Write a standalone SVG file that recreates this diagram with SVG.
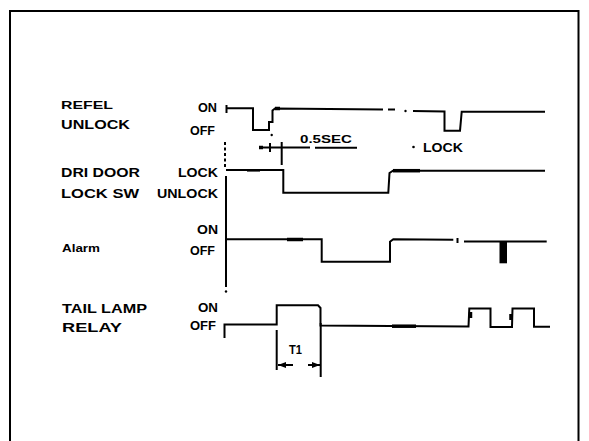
<svg xmlns="http://www.w3.org/2000/svg" width="589" height="441" viewBox="0 0 589 441">
<style>
.t{font-family:"Liberation Sans",Arial,sans-serif;font-weight:bold;font-size:12.5px;fill:#000}
.w{fill:none;stroke:#000;stroke-width:2;stroke-linejoin:miter}
.k{fill:none;stroke:#000;stroke-width:3.5}
.d{fill:none;stroke:#000;stroke-width:2;stroke-dasharray:3 2.5}
</style>
<defs>
<marker id="ah" viewBox="0 0 8 6" refX="8" refY="3" markerWidth="8" markerHeight="6" markerUnits="userSpaceOnUse" orient="auto">
<path d="M0,0 L8,3 L0,6 z" fill="#000"/>
</marker>
</defs>
<rect width="589" height="441" fill="#fff"/>
<path d="M10,441 V11 H578.5 V441" fill="none" stroke="#000" stroke-width="2"/>

<g id="labels">
<text class="t" x="61" y="109" textLength="52" lengthAdjust="spacingAndGlyphs" style="font-size:11px">REFEL</text>
<text class="t" x="61" y="128.5" textLength="69" lengthAdjust="spacingAndGlyphs">UNLOCK</text>
<text class="t" x="61" y="176.5" textLength="79" lengthAdjust="spacingAndGlyphs">DRI DOOR</text>
<text class="t" x="61" y="198" textLength="78" lengthAdjust="spacingAndGlyphs">LOCK SW</text>
<text class="t" x="62" y="251.5" textLength="38" lengthAdjust="spacingAndGlyphs" style="font-size:10.5px">Alarm</text>
<text class="t" x="62" y="313" textLength="85" lengthAdjust="spacingAndGlyphs">TAIL LAMP</text>
<text class="t" x="62" y="331.5" textLength="60" lengthAdjust="spacingAndGlyphs">RELAY</text>
</g>

<g id="levels">
<text class="t" x="198" y="112" textLength="19" lengthAdjust="spacingAndGlyphs">ON</text>
<text class="t" x="190" y="135" textLength="25" lengthAdjust="spacingAndGlyphs">OFF</text>
<text class="t" x="178" y="176.5" textLength="40" lengthAdjust="spacingAndGlyphs">LOCK</text>
<text class="t" x="157" y="198" textLength="61" lengthAdjust="spacingAndGlyphs">UNLOCK</text>
<text class="t" x="197" y="234" textLength="21" lengthAdjust="spacingAndGlyphs">ON</text>
<text class="t" x="190" y="255" textLength="25" lengthAdjust="spacingAndGlyphs">OFF</text>
<text class="t" x="198" y="311.5" textLength="20" lengthAdjust="spacingAndGlyphs">ON</text>
<text class="t" x="190" y="330" textLength="26" lengthAdjust="spacingAndGlyphs">OFF</text>
</g>

<g id="axis">
<line class="d" x1="225" y1="142" x2="225" y2="168"/>
<line class="w" x1="226" y1="176" x2="226" y2="287"/>
<circle cx="226" cy="291.5" r="1.2" fill="#000"/>
</g>

<g id="refel-unlock">
<line class="w" x1="226.5" y1="105" x2="226.5" y2="113"/>
<polyline class="w" points="226.5,108.3 253,108.3 253,130 269,130 269,122 272.5,122 272.5,110.5 275,108.5 383,109.5"/>
<line class="k" x1="275" y1="108.5" x2="280" y2="108.5"/>
<line class="w" x1="388" y1="109.5" x2="395" y2="109.5"/>
<circle cx="405.5" cy="111" r="1.2" fill="#000"/>
<polyline class="w" points="413,111 444.5,111.5 444.5,130.7 460,130.7 461.7,111.7 545,111.7"/>
<circle cx="271.7" cy="135" r="1.2" fill="#000"/>
</g>

<g id="half-sec">
<line class="w" x1="259" y1="147.5" x2="310" y2="147.5"/>
<line class="k" x1="259" y1="147.5" x2="263" y2="147.5"/>
<line class="w" x1="270" y1="143" x2="270" y2="152"/>
<line class="w" x1="281.7" y1="142" x2="281.7" y2="165"/>
<line class="w" x1="315" y1="147.7" x2="357" y2="147.7"/>
<text class="t" x="300" y="143" textLength="52" lengthAdjust="spacingAndGlyphs" style="font-size:10.5px">0.5SEC</text>
</g>

<g id="lock-note">
<circle cx="413.5" cy="147" r="1.3" fill="#000"/>
<text class="t" x="423" y="151.5" textLength="40" lengthAdjust="spacingAndGlyphs">LOCK</text>
</g>

<g id="door-lock-sw">
<polyline class="w" points="226,170 283.3,170 283.3,192.7 388.3,192.7 389.5,173 393,170.7 545,170.7"/>
<line class="k" x1="247" y1="170.3" x2="260" y2="170.3" style="stroke-width:2.6"/>
<line class="k" x1="393" y1="170.7" x2="420" y2="170.7"/>
</g>

<g id="alarm">
<polyline class="w" points="226,239.3 321.7,239.3 321.7,261.7 390,261.7 390,241.7 393.3,239.3 453.3,239.8"/>
<line class="k" x1="287" y1="239.5" x2="303" y2="239.5"/>
<line class="w" x1="457.5" y1="238" x2="457.5" y2="243"/>
<line class="w" x1="464" y1="241.5" x2="546.7" y2="241.5"/>
<rect x="499.5" y="241.5" width="7.5" height="21.8" fill="#000"/>
</g>

<g id="tail-lamp-relay">
<polyline class="w" points="224.5,338 224.5,324.5 276.7,324.5 276.7,305.3 318,305.3 320.5,308 320.5,325.5 390,326 468.5,326.5 469.3,308.5 490.5,308.5 490.5,327 512,327 512.5,308.5 534,308.5 534,326.7 550,326.7"/>
<line class="k" x1="392" y1="326.2" x2="416" y2="326.2"/>
<line class="k" x1="470.5" y1="312" x2="470.5" y2="318"/>
<line class="k" x1="511" y1="314" x2="511" y2="320"/>
</g>

<g id="t1">
<line class="w" x1="276.7" y1="330" x2="276.7" y2="370"/>
<line class="w" x1="320.7" y1="323" x2="320.7" y2="377"/>
<line class="w" x1="293" y1="365" x2="278" y2="365" marker-end="url(#ah)"/>
<line class="w" x1="308" y1="365" x2="320" y2="365" marker-end="url(#ah)"/>
<text class="t" x="289" y="354" textLength="13" lengthAdjust="spacingAndGlyphs">T1</text>
</g>
</svg>
